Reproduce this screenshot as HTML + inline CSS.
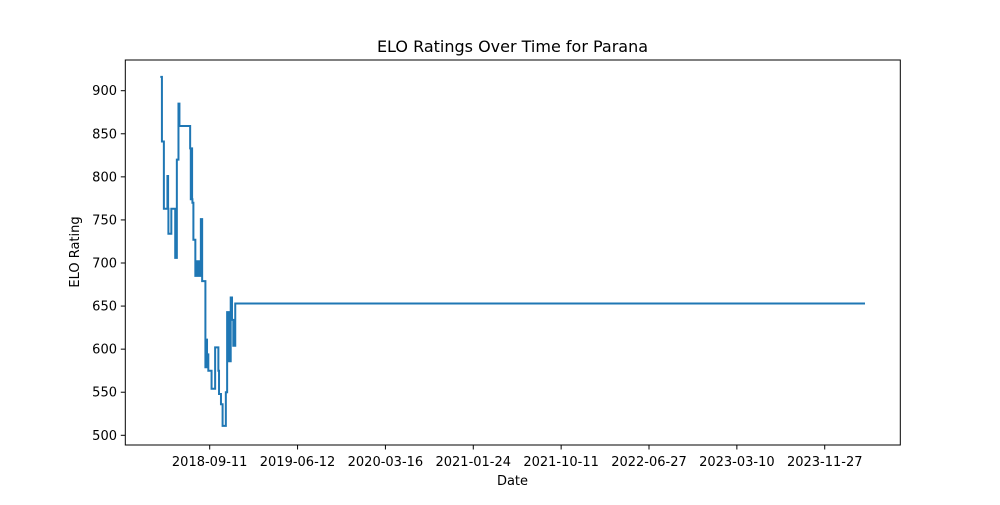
<!DOCTYPE html>
<html><head><meta charset="utf-8"><style>
body{margin:0;background:#fff;font-family:"Liberation Sans","DejaVu Sans",sans-serif}
svg text{font-family:"DejaVu Sans","Liberation Sans",sans-serif;fill:#000}
</style></head><body>
<svg id="chart" width="1000" height="500">
<rect width="1000" height="500" fill="#fff"/>
<text x="512.5" y="52" font-size="16" text-anchor="middle">ELO Ratings Over Time for Parana</text>
<text x="512.5" y="485" font-size="13" text-anchor="middle">Date</text>
<text x="79" y="252" font-size="13" text-anchor="middle" transform="rotate(-90 79 252)">ELO Rating</text>
<g id="ticks"></g>
<polyline id="line" fill="none" stroke="#1f77b4" stroke-width="2"/>
<rect x="125.3" y="60" width="775" height="385" fill="none" stroke="#000" stroke-width="1"/>
</svg>
<script>
const dates=["2018-04-17","2018-04-22","2018-04-28","2018-05-09","2018-05-11","2018-05-12","2018-05-21","2018-06-02","2018-06-07","2018-06-12","2018-06-15","2018-07-18","2018-07-20","2018-07-22","2018-07-24","2018-07-25","2018-07-28","2018-08-03","2018-08-06","2018-08-09","2018-08-11","2018-08-14","2018-08-20","2018-08-24","2018-09-03","2018-09-06","2018-09-08","2018-09-12","2018-09-22","2018-10-03","2018-10-13","2018-10-15","2018-10-21","2018-10-26","2018-11-05","2018-11-09","2018-11-14","2018-11-20","2018-11-24","2018-11-28","2018-12-04","2024-03-28"];
const ratings=[916,841,763,801,763,734,763,706,820,885,859,833,774,833,774,770,727,685,702,685,702,685,751,679,579,611,594,575,554,602,575,548,536,511,550,643,586,660,634,604,653,653];
const xTickLabels=["2018-09-11","2019-06-12","2020-03-16","2021-01-24","2021-10-11","2022-06-27","2023-03-10","2023-11-27"];
const yTickValues=[500,550,600,650,700,750,800,850,900];
const NS="http://www.w3.org/2000/svg";
function dnum(s){const p=s.split("-");return Date.UTC(+p[0],p[1]-1,+p[2])/864e5;}
const dStart=dnum("2018-04-17"), dEnd=dnum("2024-03-28");
function xs(s){return 160.3+(dnum(s)-dStart)*(704.7/(dEnd-dStart));}
function xTick(i){return 209.7+i*87.86;}
function ys(v){return 435.3-(v-500)*0.8615;}
const g=document.getElementById("ticks");
xTickLabels.forEach((l,i)=>{
 const x=xTick(i);
 const ln=document.createElementNS(NS,"line");
 ln.setAttribute("x1",x);ln.setAttribute("x2",x);ln.setAttribute("y1",445);ln.setAttribute("y2",449.5);ln.setAttribute("stroke","#000");
 
 
 g.appendChild(ln);
 const t=document.createElementNS(NS,"text");
 t.setAttribute("x",x);t.setAttribute("y",466);t.setAttribute("font-size","13");t.setAttribute("text-anchor","middle");t.textContent=l;
 
 
 g.appendChild(t);
});
yTickValues.forEach(v=>{
 const y=ys(v);
 const ln=document.createElementNS(NS,"line");
 ln.setAttribute("x1",120.8);ln.setAttribute("x2",125.3);ln.setAttribute("y1",y);ln.setAttribute("y2",y);ln.setAttribute("stroke","#000");
 
 
 g.appendChild(ln);
 const t=document.createElementNS(NS,"text");
 t.setAttribute("x",117);t.setAttribute("y",y+4.5);t.setAttribute("font-size","13");t.setAttribute("text-anchor","end");t.textContent=v;
 
 
 g.appendChild(t);
});
const pts=[];
for(let i=0;i<dates.length;i++){
 const x=xs(dates[i]);
 if(i>0)pts.push(x+","+ys(ratings[i-1]));
 pts.push(x+","+ys(ratings[i]));
}
document.getElementById("line").setAttribute("points",pts.join(" "));
</script>
</body></html>
